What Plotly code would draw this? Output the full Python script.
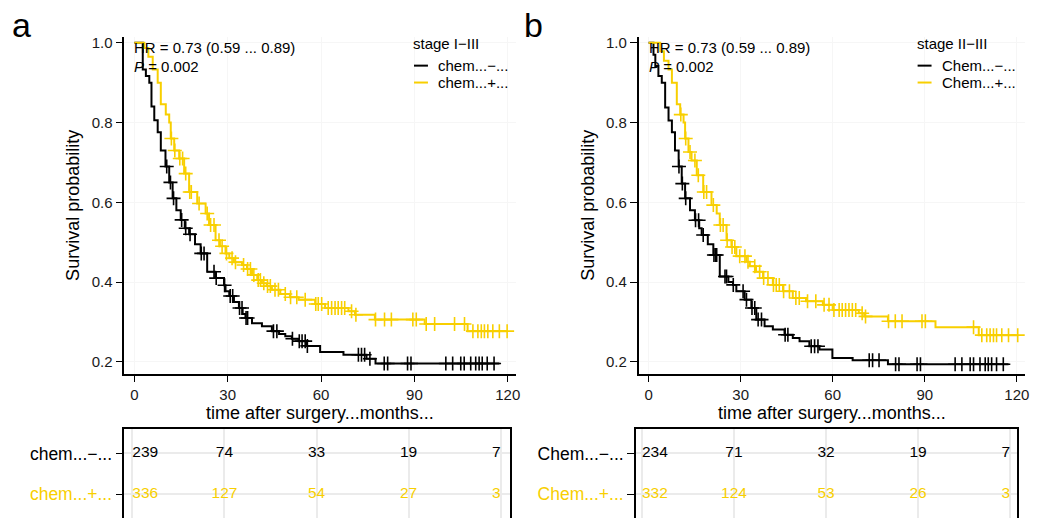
import plotly.graph_objects as go

W, H = 1049, 518
BLACK = "#000000"
GOLD = "#F8CF00"
FONT = "Liberation Sans, Arial, sans-serif"

# ---------------- data ----------------
# panel a, stage I-III
a_neg_t = [0, 2.7, 3.7, 4.8, 5.5, 6.4, 7.5, 8.5, 10.0, 11.2, 12.3, 13.5, 14.9, 16.2, 17.6, 19.5,
           21.3, 23.4, 26.0, 28.8, 29.3, 30.5, 32.0, 33.6, 34.8, 35.7, 37.8, 41.0, 44.2, 46.5,
           48.5, 50.6, 52.8, 55.4, 59.7, 67.2, 74.6, 77.5]
a_neg_s = [1.0, 0.933, 0.917, 0.900, 0.840, 0.806, 0.776, 0.730, 0.690, 0.650, 0.610, 0.580,
           0.556, 0.535, 0.520, 0.495, 0.472, 0.426, 0.410, 0.392, 0.377, 0.365, 0.350, 0.335,
           0.320, 0.310, 0.297, 0.289, 0.277, 0.270, 0.264, 0.258, 0.252, 0.240, 0.225, 0.218,
           0.208, 0.196]
a_neg_end = 117.3
a_neg_cens = [10.4, 11.6, 12.6, 15.2, 16.5, 17.9, 21.5, 22.4, 25.6, 26.3, 29.0, 30.8, 31.6, 33.8,
              34.6, 35.9, 36.4, 44.7, 45.8, 50.8, 53.0, 53.9, 54.9, 55.6, 72.0, 73.0, 74.0, 75.7,
              80.3, 81.4, 87.8, 88.9, 100.1, 102.3, 104.9, 106.0, 108.1, 109.7, 110.8, 111.8,
              113.4, 115.6]

a_pos_t = [0, 3.2, 4.5, 5.9, 7.5, 8.5, 10.1, 11.2, 11.7, 12.8, 14.4, 16.0, 17.6, 20.2, 22.9, 24.0,
           26.1, 27.5, 29.3, 30.5, 32.0, 34.6, 36.2, 37.8, 39.5, 41.0, 42.6, 44.2, 46.9, 50.0,
           52.8, 58.1, 61.3, 68.8, 70.9, 77.3, 93.3, 107.1]
a_pos_s = [1.0, 0.987, 0.965, 0.933, 0.900, 0.846, 0.820, 0.800, 0.760, 0.730, 0.710, 0.672,
           0.626, 0.597, 0.572, 0.543, 0.505, 0.490, 0.472, 0.460, 0.450, 0.443, 0.433, 0.418,
           0.405, 0.397, 0.390, 0.381, 0.370, 0.362, 0.356, 0.345, 0.335, 0.327, 0.318, 0.306,
           0.295, 0.277]
a_pos_end = 120.0
a_pos_cens = [11.9, 13.0, 14.6, 15.5, 16.5, 17.8, 18.3, 20.8, 23.4, 24.5, 25.6, 27.2, 28.2, 29.6,
              31.4, 32.5, 35.1, 36.4, 37.3, 38.4, 39.8, 40.5, 41.6, 42.8, 43.7, 45.2, 46.3, 48.5,
              50.2, 52.2, 54.9, 58.3, 59.1, 60.2, 62.3, 63.4, 64.5, 65.5, 66.6, 67.6, 69.8, 71.2,
              77.5, 80.4, 82.6, 89.5, 90.6, 93.8, 96.5, 102.9, 106.1, 108.8, 110.4, 111.5, 112.5,
              113.6, 115.2, 117.3, 119.8]

# panel b, stage II-III
b_neg_t = [0, 1.6, 2.2, 3.2, 4.3, 5.4, 6.5, 7.6, 8.6, 9.8, 10.8, 11.9, 13.5, 15.1, 16.5, 17.3,
           19.3, 21.1, 23.2, 26.0, 27.5, 28.6, 31.3, 33.5, 35.1, 37.8, 40.5, 44.3, 47.0, 49.2,
           52.4, 55.7, 59.9, 66.5, 78.0]
b_neg_s = [1.0, 0.97, 0.942, 0.917, 0.90, 0.838, 0.805, 0.776, 0.73, 0.69, 0.647, 0.61, 0.58,
           0.555, 0.535, 0.518, 0.495, 0.468, 0.414, 0.40, 0.393, 0.377, 0.356, 0.335, 0.306,
           0.289, 0.281, 0.268, 0.26, 0.252, 0.239, 0.231, 0.21, 0.204, 0.194]
b_neg_end = 117.3
b_neg_cens = [9.9, 11.0, 12.1, 15.3, 16.3, 17.8, 21.3, 21.8, 22.2, 24.9, 25.4, 27.6, 30.8, 31.9,
              33.7, 34.6, 35.7, 36.8, 44.5, 45.4, 53.0, 54.1, 55.2, 71.9, 73.0, 75.1, 80.5, 81.6,
              87.5, 88.6, 99.9, 102.1, 104.8, 105.9, 108.0, 109.7, 110.7, 111.8, 113.4, 115.6]

b_pos_t = [0, 3.8, 5.0, 6.5, 7.6, 9.2, 10.3, 11.4, 11.9, 13.0, 14.0, 15.7, 17.8, 20.5, 22.2, 23.2,
           25.4, 27.0, 28.6, 31.9, 33.0, 35.0, 37.3, 40.5, 43.8, 47.0, 51.3, 56.8, 60.0, 68.5,
           70.3, 78.0, 93.5, 107.6]
b_pos_s = [1.0, 0.979, 0.955, 0.933, 0.90, 0.846, 0.82, 0.80, 0.76, 0.726, 0.705, 0.668, 0.626,
           0.593, 0.572, 0.543, 0.505, 0.488, 0.465, 0.451, 0.44, 0.426, 0.41, 0.393, 0.377,
           0.36, 0.352, 0.343, 0.33, 0.322, 0.314, 0.302, 0.287, 0.267]
b_pos_end = 120.5
b_pos_cens = [10.5, 12.1, 13.5, 15.1, 16.2, 18.0, 18.9, 21.1, 23.4, 24.3, 25.6, 27.2, 28.1, 29.7,
              31.4, 32.4, 34.6, 36.2, 37.5, 38.9, 40.7, 41.6, 42.6, 44.0, 45.9, 48.0, 49.1, 51.8,
              54.5, 57.2, 58.8, 60.4, 62.1, 63.1, 64.2, 65.3, 66.4, 67.5, 69.6, 70.7, 78.2, 80.4,
              82.6, 89.1, 90.2, 105.9, 108.6, 110.2, 111.3, 112.4, 113.4, 115.1, 117.3, 120.3]

risk_times = [0, 30, 60, 90, 120]
a_risk_neg = [239, 74, 33, 19, 7]
a_risk_pos = [336, 127, 54, 27, 3]
b_risk_neg = [234, 71, 32, 19, 7]
b_risk_pos = [332, 124, 53, 26, 3]

a_labels = ["chem...\u2212...", "chem...+..."]
b_labels = ["Chem...\u2212...", "Chem...+..."]
a_title = "stage I\u2212III"
b_title = "stage II\u2212III"
hr_text = "HR = 0.73 (0.59 ... 0.89)"
p_text = "<i>P</i> = 0.002"
x_title = "time after surgery...months..."
y_title = "Survival probability"

# ---------------- helpers ----------------
def px_x(p):
    return p / W

def px_y(p):
    return 1 - p / H

def surv_at(ts, ss, c):
    val = ss[0]
    for t, s in zip(ts, ss):
        if t <= c:
            val = s
    return val

fig = go.Figure()

def add_km(ts, ss, end, cens, color, name, xa, ya):
    fig.add_trace(go.Scatter(
        x=ts + [end], y=ss + [ss[-1]], mode="lines", line=dict(color=color, width=2, shape="hv"),
        name=name, xaxis=xa, yaxis=ya, showlegend=False, hoverinfo="skip"))
    fig.add_trace(go.Scatter(
        x=cens, y=[surv_at(ts, ss, c) for c in cens], mode="markers",
        marker=dict(symbol="cross-thin", size=10, line=dict(color=color, width=1.6)),
        showlegend=False, xaxis=xa, yaxis=ya, hoverinfo="skip"))

add_km(a_neg_t, a_neg_s, a_neg_end, a_neg_cens, BLACK, a_labels[0], "x", "y")
add_km(a_pos_t, a_pos_s, a_pos_end, a_pos_cens, GOLD, a_labels[1], "x", "y")
add_km(b_neg_t, b_neg_s, b_neg_end, b_neg_cens, BLACK, b_labels[0], "x2", "y2")
add_km(b_pos_t, b_pos_s, b_pos_end, b_pos_cens, GOLD, b_labels[1], "x2", "y2")

pos_list = ["middle right", "middle center", "middle center", "middle center", "middle left"]
for xa, ya, neg, pos in [("x3", "y3", a_risk_neg, a_risk_pos), ("x4", "y4", b_risk_neg, b_risk_pos)]:
    fig.add_trace(go.Scatter(x=risk_times, y=[2] * 5, mode="text", text=[str(v) for v in neg],
                             textposition=pos_list, textfont=dict(color=BLACK, size=15.5, family=FONT),
                             showlegend=False, xaxis=xa, yaxis=ya, hoverinfo="skip"))
    fig.add_trace(go.Scatter(x=risk_times, y=[1] * 5, mode="text", text=[str(v) for v in pos],
                             textposition=pos_list, textfont=dict(color=GOLD, size=15.5, family=FONT),
                             showlegend=False, xaxis=xa, yaxis=ya, hoverinfo="skip"))

main_y_dom = [px_y(373), px_y(34)]
tab_y_dom = [0, px_y(428)]

def main_x(dom, rng):
    return dict(domain=dom, range=rng, tickvals=risk_times, ticks="outside", ticklen=6,
                tickwidth=1.3, tickcolor=BLACK, showline=True, linecolor=BLACK, linewidth=1.6,
                showgrid=True, gridcolor="#f6f6f6", zeroline=False,
                tickfont=dict(size=15, color="#1a1a1a", family=FONT),
                title=dict(text=x_title, font=dict(size=18, color=BLACK, family=FONT), standoff=4))

def main_y(dom, anchor):
    return dict(domain=dom, range=[0.17, 1.015], tickvals=[0.2, 0.4, 0.6, 0.8, 1.0],
                tickformat=".1f", ticks="outside", ticklen=7, tickwidth=1.3, tickcolor=BLACK,
                showline=True, linecolor=BLACK, linewidth=1.6, showgrid=True, gridcolor="#f6f6f6",
                zeroline=False, anchor=anchor,
                tickfont=dict(size=15, color="#1a1a1a", family=FONT),
                title=dict(text=y_title, font=dict(size=18, color=BLACK, family=FONT), standoff=7))

def tab_x(dom, rng, anchor):
    return dict(domain=dom, range=rng, tickvals=risk_times, showticklabels=False, ticks="",
                showline=True, mirror=True, linecolor=BLACK, linewidth=1.6, showgrid=True,
                gridcolor="#ebebeb", gridwidth=2, zeroline=False, anchor=anchor)

def tab_y(labels, anchor):
    return dict(domain=tab_y_dom, range=[0.415, 2.61], tickvals=[2, 1],
                ticktext=[labels[0], '<span style="color:%s">%s</span>' % (GOLD, labels[1])],
                ticks="outside", ticklen=7, tickwidth=1.3, tickcolor=BLACK, showline=True,
                mirror=True, linecolor=BLACK, linewidth=1.6, showgrid=True, gridcolor="#ebebeb",
                gridwidth=2, zeroline=False, anchor=anchor,
                tickfont=dict(size=17.5, color=BLACK, family=FONT))

fig.update_layout(
    width=W, height=H, margin=dict(l=0, r=0, t=0, b=0),
    paper_bgcolor="white", plot_bgcolor="white",
    font=dict(family=FONT, color=BLACK),
    xaxis=main_x([px_x(125), px_x(518)], [-3.2, 122.5]),
    yaxis=main_y(main_y_dom, "x"),
    xaxis2=dict(main_x([px_x(641.7), px_x(1030)], [-3.24, 122.7]), anchor="y2"),
    yaxis2=main_y(main_y_dom, "x2"),
    xaxis3=tab_x([px_x(125), px_x(512)], [-2.6, 122.9], "y3"),
    yaxis3=tab_y(a_labels, "x3"),
    xaxis4=tab_x([px_x(639), px_x(1022)], [-1.95, 122.3], "y4"),
    yaxis4=tab_y(b_labels, "x4"),
    showlegend=False,
)

for xr, yr in [("x", "y"), ("x2", "y2")]:
    fig.add_annotation(x=-0.64, y=0.9875, xref=xr, yref=yr, text=hr_text, showarrow=False,
                       xanchor="left", yanchor="middle", font=dict(size=15, family=FONT, color=BLACK))
    fig.add_annotation(x=-0.64, y=0.94, xref=xr, yref=yr, text=p_text, showarrow=False,
                       xanchor="left", yanchor="middle", font=dict(size=15, family=FONT, color=BLACK))

# legends (title, line samples and labels)
for title, labels, lx, tx in [(a_title, a_labels, 416, 441), (b_title, b_labels, 922, 947)]:
    fig.add_annotation(x=px_x(lx - 3), y=px_y(41), xref="paper", yref="paper", text=title,
                       showarrow=False, xanchor="left", yanchor="middle",
                       font=dict(size=15, family=FONT, color=BLACK))
    for lab, col, yy in [(labels[0], BLACK, 63), (labels[1], GOLD, 80)]:
        fig.add_shape(type="line", xref="paper", yref="paper", x0=px_x(lx), x1=px_x(lx + 14),
                      y0=px_y(yy), y1=px_y(yy), line=dict(color=col, width=2))
        fig.add_annotation(x=px_x(tx - 3), y=px_y(yy), xref="paper", yref="paper", text=lab,
                           showarrow=False, xanchor="left", yanchor="middle",
                           font=dict(size=15, family=FONT, color=BLACK))

for letter, xp in [("a", 10), ("b", 524)]:
    fig.add_annotation(x=px_x(xp), y=px_y(22), xref="paper", yref="paper", text=letter,
                       showarrow=False, xanchor="left", yanchor="middle",
                       font=dict(size=34, family=FONT, color=BLACK))

fig.write_html("out.html", config={"displayModeBar": False},
               post_script="document.body.style.margin='0px';")
